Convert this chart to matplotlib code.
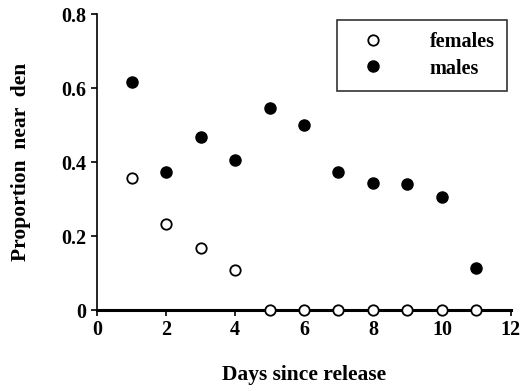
import matplotlib
matplotlib.use("Agg")
import matplotlib.pyplot as plt

plt.rcParams['font.family'] = ['Liberation Serif', 'DejaVu Serif']
plt.rcParams['font.weight'] = 'bold'

days = [1, 2, 3, 4, 5, 6, 7, 8, 9, 10, 11]
females = [0.357, 0.232, 0.168, 0.108, 0, 0, 0, 0, 0, 0, 0]
males = [0.616, 0.373, 0.468, 0.405, 0.546, 0.500, 0.373, 0.343, 0.340, 0.305, 0.114]

fig = plt.figure(figsize=(5.25, 3.91), dpi=100)
ax = fig.add_axes([0.185, 0.207, 0.788, 0.757])

ax.plot(days, females, 'o', mfc='white', mec='black', mew=1.3, ms=7.5,
        label='females', clip_on=False, zorder=3)
ax.plot(days, males, 'o', mfc='black', mec='black', ms=8,
        label='males', clip_on=False, zorder=3)

ax.set_xlim(0, 12)
ax.set_ylim(0, 0.8)
ax.set_xticks([0, 2, 4, 6, 8, 10, 12])
ax.set_yticks([0, 0.2, 0.4, 0.6, 0.8])
ax.set_yticklabels(['0', '0.2', '0.4', '0.6', '0.8'])
for s in ['top', 'right']:
    ax.spines[s].set_visible(False)
ax.spines['left'].set_linewidth(1.2)
ax.spines['bottom'].set_linewidth(2.2)
ax.tick_params(direction='out', length=4, width=1.2, labelsize=14.5)
for lab in ax.get_xticklabels() + ax.get_yticklabels():
    lab.set_fontweight('bold')

ax.set_xlabel('Days since release', fontsize=15.5, fontweight='bold', labelpad=18)
ax.set_ylabel('Proportion  near  den', fontsize=15.5, fontweight='bold', labelpad=22)

leg = ax.legend(loc='upper right', bbox_to_anchor=(0.99, 0.98), frameon=True,
                fancybox=False, edgecolor='black',
                handletextpad=1.6, borderpad=0.6, labelspacing=0.32,
                handlelength=2.4, borderaxespad=0.0,
                prop={'weight': 'bold', 'size': 14.5})
leg.get_frame().set_linewidth(1.2)

fig.savefig('out.png', dpi=100)
